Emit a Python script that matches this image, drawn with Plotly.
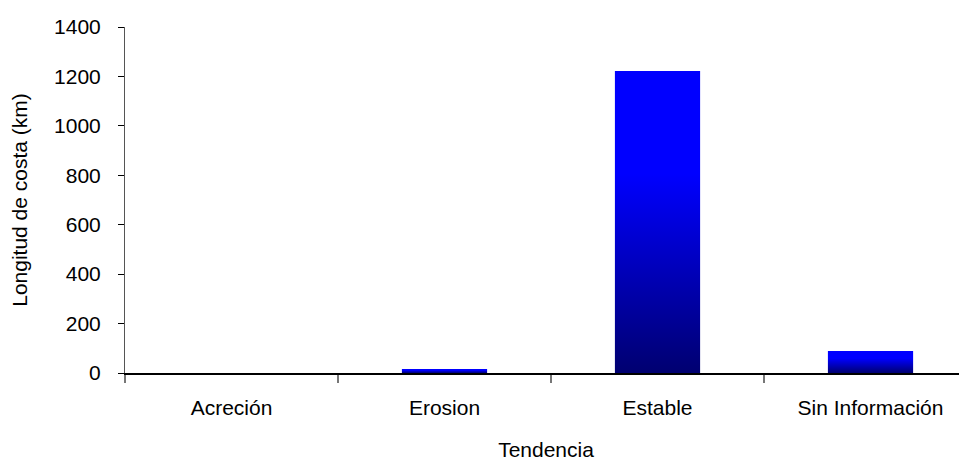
import plotly.graph_objects as go

categories = ["Acreción", "Erosion", "Estable", "Sin Información"]
values = [0, 16, 1222, 89]
y_ticks = [0, 200, 400, 600, 800, 1000, 1200, 1400]

positions = list(range(len(categories)))
bar_width = 0.4
font = dict(family="Liberation Sans, Arial, sans-serif", size=21, color="black")
gradient = [[0, "#000070"], [0.66, "#0000FF"], [1, "#0000FF"]]

fig = go.Figure()
fig.add_trace(go.Bar(x=positions, y=values, width=bar_width,
                     marker=dict(color="#0000B0", line=dict(width=0)),
                     hoverinfo="x+y", showlegend=False))

# vertical gradient overlay for each bar
for p, v in zip(positions, values):
    if v <= 0:
        continue
    h = bar_width / 2
    fig.add_trace(go.Scatter(
        x=[p - h, p + h, p + h, p - h, p - h],
        y=[0, 0, v, v, 0],
        mode="lines", line=dict(width=0), fill="toself",
        fillcolor="#0000B0",
        fillgradient=dict(type="vertical", colorscale=gradient),
        hoverinfo="skip", showlegend=False))

xr = [-0.5, 3.453]
fig.update_layout(
    width=959, height=453,
    margin=dict(l=117, r=0, t=19, b=88),
    paper_bgcolor="white", plot_bgcolor="white",
    font=font,
    bargap=0,
    xaxis=dict(range=xr, tickmode="array",
               tickvals=[p - 0.5 for p in positions],
               showticklabels=False, ticks="outside", ticklen=8,
               tickcolor="#777777", tickwidth=1.5,
               showline=True, linecolor="black", linewidth=1.5,
               showgrid=False, zeroline=False, automargin=False),
    xaxis2=dict(range=xr, overlaying="x", side="bottom", anchor="y",
                tickmode="array", tickvals=positions, ticktext=categories,
                ticks="", showline=False, showgrid=False, zeroline=False,
                ticklabelstandoff=20, automargin=False,
                title=dict(text="Tendencia", font=font, standoff=28)),
    yaxis=dict(range=[0, 1400], tickmode="array", tickvals=y_ticks,
               ticks="outside", ticklen=6, tickcolor="black",
               showline=True, linecolor="#555555", linewidth=1,
               showgrid=False, zeroline=False, ticklabelstandoff=13,
               automargin=False,
               title=dict(text="Longitud de costa (km)", font=font, standoff=21)),
)
# dummy trace to activate xaxis2 labels
fig.add_trace(go.Scatter(x=[positions[0]], y=[None], xaxis="x2", yaxis="y",
                         mode="markers", showlegend=False, hoverinfo="skip"))
fig.write_html("out.html")
